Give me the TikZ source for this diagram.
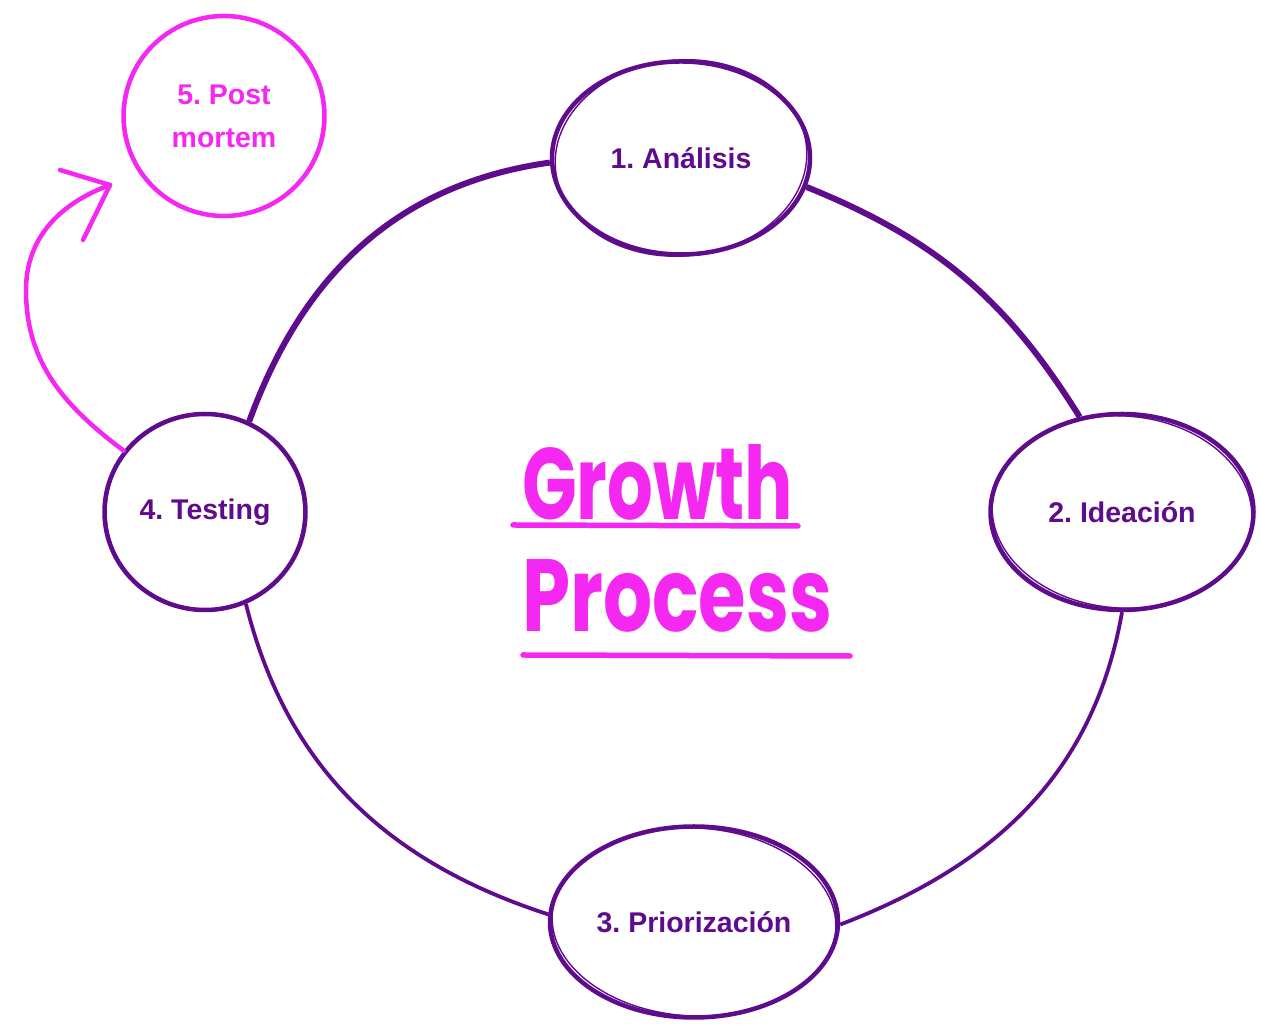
\documentclass[tikz,border=0pt]{standalone}
\usepackage{fontspec}
\usepackage{graphicx}
\setmainfont{Liberation Sans}
\newfontfamily\titlefont{Poppins}
\usetikzlibrary{shapes.geometric}
\definecolor{pp}{RGB}{94,12,140}
\definecolor{mg}{RGB}{244,40,240}
\frenchspacing
\tikzset{
  stage/.style={ellipse, draw=pp, line width=4.5pt, inner sep=0pt, text=pp,
    font=\fontsize{28.5}{43}\selectfont\bfseries},
  stagepink/.style={stage, draw=mg, text=mg, align=center},
  ring/.style={draw=pp, line width=#1},
  ring/.default=4pt,
  sketchpp/.style={draw=pp, line width=1.4pt},
  sketchmg/.style={draw=mg, line width=1.4pt},
  pinkline/.style={draw=mg, line width=4.5pt, line cap=round, line join=round},
  uline/.style={draw=mg, line width=5.5pt, line cap=round},
  titletext/.style={anchor=base west, inner sep=0pt, text=mg}
}
\begin{document}
\begin{tikzpicture}[x=1pt,y=1pt]
\useasboundingbox (0,0) rectangle (1261,1030);
\fill[white] (0,0) rectangle (1261,1030);

% stages
\node[stage, minimum width=258pt, minimum height=193pt] (ana) at (681,872) {1. Análisis};
\node[stage, minimum width=263pt, minimum height=196pt] (ide) at (1122,518) {2. Ideación};
\node[stage, minimum width=288pt, minimum height=191pt] (pri) at (694,108) {3. Priorización};
\node[stage, minimum width=201pt, minimum height=196pt] (test) at (205,518) {4. Testing};
\node[stagepink, minimum width=201pt, minimum height=200pt] (pm) at (224,914) {5. Post\\mortem};

% sketchy second strokes
\draw[sketchpp] (ana.center) ellipse [x radius=126pt, y radius=98pt, rotate=5];
\draw[sketchpp] (ide.center) ellipse [x radius=130pt, y radius=96pt, rotate=-4];
\draw[sketchpp] (pri.center) ellipse [x radius=142pt, y radius=94pt, rotate=-3];
\draw[sketchpp] (test.center) ellipse [x radius=99pt, y radius=99pt, rotate=4];
\draw[sketchmg] (pm.center) ellipse [x radius=99pt, y radius=101pt, rotate=-5];

% ring connectors
\draw[ring=6pt] (ana.182) to[out=188,in=70] (test.64);
\draw[ring=3.8pt] (test.-66) to[out=-76,in=162] (pri.177);
\draw[ring=3.8pt] (pri.-1) to[out=21,in=-100] (ide.-90);
\draw[ring=6pt] (ide.114) to[out=122,in=-22] (ana.-13);

% arrow to post mortem
\coordinate (tip) at (110,845);
\coordinate (bend) at (26,740);
\draw[pinkline] (test.143) to[out=143,in=-90] (bend) to[out=90,in=200] (tip);
\draw[pinkline] (tip) ++(-50,15) -- (tip) -- ++(-27,-55);

% title
\node[titletext] (g) at (522,510) {\resizebox{271pt}{75pt}{\titlefont\bfseries Growth}};
\node[titletext] (p) at (522,398) {\resizebox{310pt}{72pt}{\titlefont\bfseries Process}};
\draw[uline] (513,505) -- (798,504);
\draw[uline] (523,375) -- (850,374);
\end{tikzpicture}
\end{document}
